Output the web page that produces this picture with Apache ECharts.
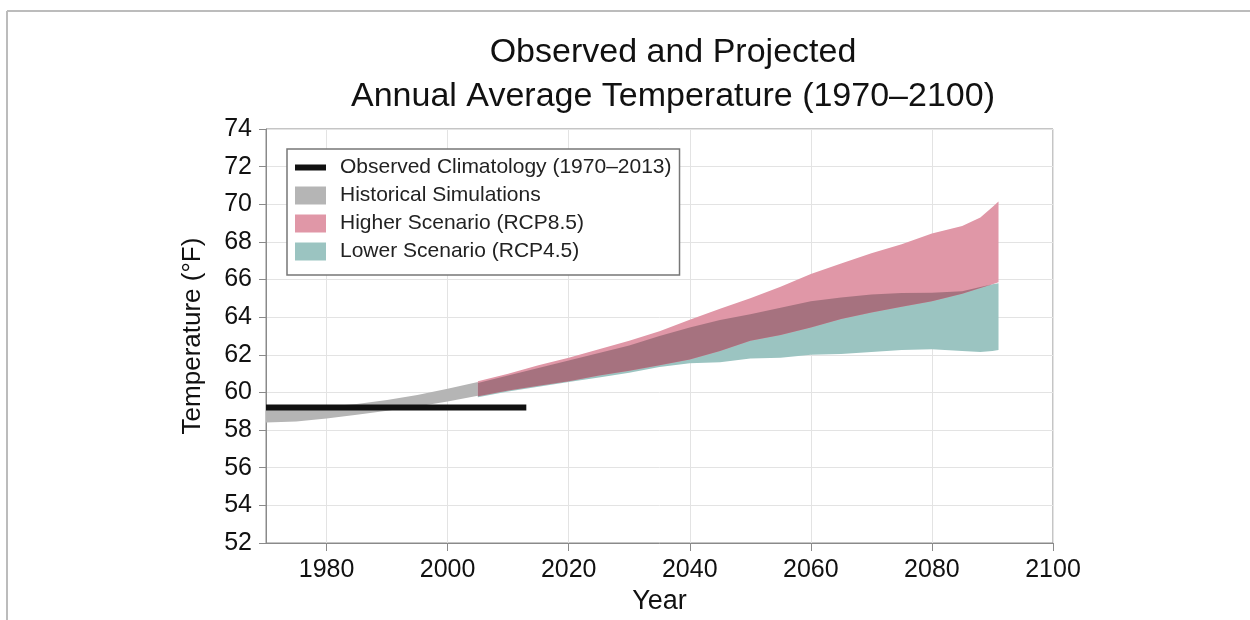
<!DOCTYPE html>
<html>
<head>
<meta charset="utf-8">
<script src="https://cdn.jsdelivr.net/npm/echarts@6/dist/echarts.min.js"></script>
<style>html,body{margin:0;padding:0;background:#fff}#c{width:1250px;height:620px}</style>
</head>
<body>
<div id="c"></div>
<script>
// ---- data ----
const xTicks = [1980, 2000, 2020, 2040, 2060, 2080, 2100];
const obsYears = [1970, 2013];
const obsValues = [59.2, 59.2];

const histYears = [1970, 1975, 1980, 1985, 1990, 1995, 2000, 2005];
const histLow   = [58.40, 58.45, 58.62, 58.82, 59.03, 59.26, 59.52, 59.83];
const histHigh  = [59.10, 59.15, 59.25, 59.38, 59.60, 59.87, 60.20, 60.55];

const projYears = [2005, 2010, 2015, 2020, 2025, 2030, 2035, 2040, 2045, 2050, 2055, 2060, 2065, 2070, 2075, 2080, 2085, 2088, 2090, 2091];
const rcp85High = [60.60, 61.00, 61.45, 61.85, 62.30, 62.75, 63.25, 63.87, 64.45, 65.00, 65.62, 66.30, 66.85, 67.40, 67.88, 68.45, 68.85, 69.30, 69.85, 70.15];
const rcp85Low  = [59.80, 60.10, 60.35, 60.60, 60.90, 61.15, 61.45, 61.75, 62.20, 62.75, 63.05, 63.45, 63.90, 64.25, 64.55, 64.85, 65.25, 65.55, 65.75, 65.85];
const rcp45High = [60.50, 60.90, 61.30, 61.70, 62.10, 62.50, 63.00, 63.45, 63.85, 64.15, 64.50, 64.85, 65.05, 65.20, 65.28, 65.30, 65.38, 65.60, 65.75, 65.80];
const rcp45Low  = [59.75, 60.05, 60.30, 60.55, 60.80, 61.05, 61.35, 61.55, 61.60, 61.80, 61.85, 62.00, 62.05, 62.15, 62.25, 62.30, 62.20, 62.15, 62.20, 62.25];

// overlap of the two scenario ranges (derived)
const overlapLow  = projYears.map((y, i) => Math.max(rcp85Low[i], rcp45Low[i]));
const overlapHigh = projYears.map((y, i) => Math.max(overlapLow[i], Math.min(rcp85High[i], rcp45High[i])));

const C_GRAY = '#b5b5b5', C_PINK = '#e097a7', C_TEAL = '#9bc4c1', C_OVER = '#a6727f';
const FONT = 'Liberation Sans, Arial, sans-serif';

function bandSeries(name, years, low, high, color) {
  const rows = years.map((y, i) => [y, low[i], high[i]]);
  return {
    name: name,
    type: 'custom',
    color: color,
    itemStyle: { color: color },
    data: rows,
    encode: { x: 0, y: [1, 2] },
    silent: true,
    renderItem: function (params, api) {
      if (params.dataIndex !== 0) return null;
      const pts = [];
      for (let i = 0; i < years.length; i++) pts.push(api.coord([years[i], high[i]]));
      for (let i = years.length - 1; i >= 0; i--) pts.push(api.coord([years[i], low[i]]));
      return { type: 'polygon', shape: { points: pts }, style: { fill: color, stroke: null } };
    }
  };
}

const chart = echarts.init(document.getElementById('c'), null, { renderer: 'canvas' });
chart.setOption({
  animation: false,
  backgroundColor: '#fff',
  textStyle: { fontFamily: FONT },
  title: {
    text: 'Observed and Projected\nAnnual Average Temperature (1970–2100)',
    left: 668, top: 26, textAlign: 'center',
    textStyle: { fontFamily: FONT, fontSize: 34, fontWeight: 'normal', color: '#111', lineHeight: 44 }
  },
  legend: {
    orient: 'vertical',
    left: 287, top: 149,
    padding: [8, 8, 13, 8],
    itemGap: 7,
    itemWidth: 31, itemHeight: 18,
    borderColor: '#777', borderWidth: 1.5,
    backgroundColor: '#fff',
    textStyle: { fontFamily: FONT, fontSize: 21, color: '#222', lineHeight: 20, padding: [0, 0, 0, 9] },
    data: [
      { name: 'Observed Climatology (1970–2013)', icon: 'path://M0,0H31ZM0,6H31V12H0ZM0,18H31Z', itemStyle: { color: '#111', borderWidth: 0 } },
      { name: 'Historical Simulations', icon: 'rect' },
      { name: 'Higher Scenario (RCP8.5)', icon: 'rect' },
      { name: 'Lower Scenario (RCP4.5)', icon: 'rect' }
    ],
    selectedMode: false
  },
  grid: { left: 266, right: 197, top: 129, bottom: 77, outerBoundsMode: 'none', show: true, borderColor: '#8a8a8a', borderWidth: 1, backgroundColor: 'transparent' },
  xAxis: {
    type: 'value', min: 1970, max: 2100, interval: 10,
    name: 'Year', nameLocation: 'middle', nameGap: 41,
    nameTextStyle: { fontFamily: FONT, fontSize: 27, color: '#111' },
    axisLine: { show: true, lineStyle: { color: '#8a8a8a', width: 1 } },
    axisTick: { show: true, length: 8, customValues: xTicks, lineStyle: { color: '#8a8a8a' } },
    axisLabel: { customValues: xTicks, formatter: v => String(v), fontFamily: FONT, fontSize: 25, color: '#111', margin: 15 },
    splitLine: { show: true, lineStyle: { color: '#e3e3e3', width: 1 } }
  },
  yAxis: {
    type: 'value', min: 52, max: 74, interval: 2,
    name: 'Temperature (°F)', nameLocation: 'middle', nameGap: 60, nameRotate: 90,
    nameTextStyle: { fontFamily: FONT, fontSize: 26, color: '#111' },
    axisLine: { show: true, lineStyle: { color: '#8a8a8a', width: 1 } },
    axisTick: { show: true, length: 7, lineStyle: { color: '#8a8a8a' } },
    axisLabel: { fontFamily: FONT, fontSize: 25, color: '#111', margin: 14 },
    splitLine: { show: true, lineStyle: { color: '#e3e3e3', width: 1 } }
  },
  graphic: [
    { type: 'line', shape: { x1: 7, y1: 11, x2: 1250, y2: 11 }, style: { stroke: '#bcbcbc', lineWidth: 2 }, silent: true },
    { type: 'line', shape: { x1: 7, y1: 11, x2: 7, y2: 620 }, style: { stroke: '#bcbcbc', lineWidth: 2 }, silent: true }
  ],
  series: [
    bandSeries('Historical Simulations', histYears, histLow, histHigh, C_GRAY),
    bandSeries('Lower Scenario (RCP4.5)', projYears, rcp45Low, rcp45High, C_TEAL),
    bandSeries('Higher Scenario (RCP8.5)', projYears, rcp85Low, rcp85High, C_PINK),
    bandSeries('Overlap', projYears, overlapLow, overlapHigh, C_OVER),
    {
      name: 'Observed Climatology (1970–2013)',
      type: 'line',
      data: obsYears.map((y, i) => [y, obsValues[i]]),
      symbol: 'none',
      color: '#111',
      lineStyle: { color: '#111', width: 6 },
      silent: true,
      z: 5
    }
  ]
});
</script>
</body>
</html>
